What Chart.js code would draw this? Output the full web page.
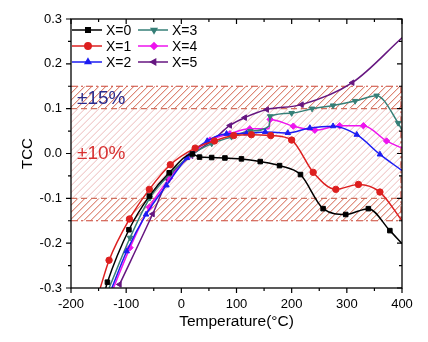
<!DOCTYPE html>
<html>
<head>
<meta charset="utf-8">
<script src="https://cdn.jsdelivr.net/npm/chart.js@4.4.1/dist/chart.umd.min.js"></script>
<style>
  html, body { margin: 0; padding: 0; background: #fff; }
  #wrap { width: 428px; height: 342px; }
</style>
</head>
<body>
<div id="wrap"><canvas id="chart"></canvas></div>
<script>
const SERIES_NAMES = ["X=0", "X=1", "X=2", "X=3", "X=4", "X=5"];
const COLORS = ["#000000", "#dd1f1f", "#1c1cf2", "#367f77", "#ee14ee", "#661680"];
const POINT_STYLES = ["rect", "circle", "triangle", "triangle", "rectRot", "triangle"];
const POINT_ROTATIONS = [0, 0, 0, 180, 0, -90];

const temp0 = [-137, -134, -95, -58, -22, 20, 33, 55, 79, 109, 143, 178, 216, 257, 298, 339, 378, 400];
const tcc0 = [-0.3, -0.287, -0.17, -0.095, -0.043, -0.001, -0.008, -0.009, -0.01, -0.012, -0.018, -0.027, -0.047, -0.123, -0.136, -0.123, -0.172, -0.201];

const temp1 = [-147, -131, -94, -58, -20, 25, 60, 95, 127, 162, 200, 239, 280, 321, 360, 400];
const tcc1 = [-0.3, -0.238, -0.146, -0.08, -0.025, 0.012, 0.028, 0.04, 0.042, 0.04, 0.03, -0.042, -0.08, -0.069, -0.086, -0.15];

const temp2 = [-126, -99, -64, -27, 10, 47, 82, 118, 152, 193, 233, 275, 318, 360, 400];
const tcc2 = [-0.3, -0.218, -0.136, -0.071, -0.01, 0.028, 0.044, 0.045, 0.048, 0.046, 0.057, 0.061, 0.042, -0.002, -0.038];

const temp3 = [-131, -93, -57, -20, 18, 55, 91, 125, 159, 161, 200, 237, 275, 315, 354, 393, 400];
const tcc3 = [-0.3, -0.188, -0.099, -0.045, -0.003, 0.022, 0.037, 0.05, 0.061, 0.083, 0.09, 0.1, 0.107, 0.117, 0.129, 0.068, 0.052];

const temp4 = [-123, -93, -58, -21, 15, 52, 88, 124, 159, 161, 203, 242, 287, 330, 372, 400];
const tcc4 = [-0.3, -0.21, -0.12, -0.055, -0.005, 0.03, 0.044, 0.055, 0.055, 0.076, 0.061, 0.052, 0.062, 0.062, 0.028, 0.012];

const temp5 = [-112, -52, -24, 18, 58, 88, 115, 155, 218, 310, 400];
const tcc5 = [-0.292, -0.135, -0.058, -0.005, 0.031, 0.0625, 0.08, 0.098, 0.109, 0.158, 0.258];

const TEMPS = [temp0, temp1, temp2, temp3, temp4, temp5];
const TCCS = [tcc0, tcc1, tcc2, tcc3, tcc4, tcc5];

// tolerance bands: inner ±10%, outer ±15%
const BAND_INNER = 0.10;
const BAND_OUTER = 0.15;

const FONT = "'Liberation Sans', Arial, sans-serif";

function hatch(ctx, area, yTop, yBot, color, gap, width) {
  ctx.save();
  ctx.beginPath();
  ctx.rect(area.left, yTop, area.right - area.left, yBot - yTop);
  ctx.clip();
  ctx.strokeStyle = color;
  ctx.lineWidth = width;
  const h = yBot - yTop;
  ctx.beginPath();
  for (let x = area.left - h; x < area.right + gap; x += gap) {
    ctx.moveTo(x, yBot);
    ctx.lineTo(x + h, yTop);
  }
  ctx.stroke();
  ctx.restore();
}

function hLine(ctx, area, y, color, dash) {
  ctx.save();
  ctx.strokeStyle = color;
  ctx.lineWidth = 1.2;
  ctx.setLineDash(dash);
  ctx.beginPath();
  ctx.moveTo(area.left, y);
  ctx.lineTo(area.right, y);
  ctx.stroke();
  ctx.restore();
}

const bandsPlugin = {
  id: "bands",
  beforeDatasetsDraw(chart) {
    const { ctx, chartArea: a, scales: { y } } = chart;
    const o1 = y.getPixelForValue(BAND_OUTER), i1 = y.getPixelForValue(BAND_INNER);
    const i2 = y.getPixelForValue(-BAND_INNER), o2 = y.getPixelForValue(-BAND_OUTER);
    hatch(ctx, a, o1, i1, "rgba(205,80,55,0.9)", 7, 1);
    hatch(ctx, a, i2, o2, "rgba(205,80,55,0.9)", 7, 1);
    hatch(ctx, a, i1, i2, "rgba(220,120,120,0.5)", 7, 1);
    const dashDot = [7, 3, 2, 3];
    hLine(ctx, a, o1, "#cc4535", dashDot);
    hLine(ctx, a, o2, "#cc4535", dashDot);
    hLine(ctx, a, i1, "#d0705e", [6, 4]);
    hLine(ctx, a, i2, "#d0705e", [6, 4]);
    ctx.save();
    ctx.strokeStyle = "#cc4535";
    ctx.lineWidth = 1.2;
    ctx.setLineDash(dashDot);
    ctx.beginPath();
    ctx.moveTo(a.right - 1, o1);
    ctx.lineTo(a.right - 1, o2);
    ctx.stroke();
    ctx.restore();

    ctx.save();
    ctx.font = "19px " + FONT;
    ctx.textBaseline = "middle";
    ctx.textAlign = "left";
    ctx.fillStyle = "#2b2b8c";
    ctx.fillText("\u00b115%", a.left + 6, (o1 + i1) / 2 + 1);
    ctx.fillStyle = "#d83232";
    ctx.fillText("\u00b110%", a.left + 6, y.getPixelForValue(0));
    ctx.restore();
  }
};

const framePlugin = {
  id: "frame",
  afterDraw(chart) {
    const { ctx, chartArea: a, scales: { x, y } } = chart;
    ctx.save();
    ctx.strokeStyle = "#000";
    ctx.lineWidth = 1.3;
    ctx.strokeRect(a.left, a.top, a.right - a.left, a.bottom - a.top);
    ctx.lineWidth = 1.2;
    ctx.beginPath();
    for (let v = -200; v <= 400; v += 50) {
      const px = x.getPixelForValue(v);
      const len = v % 100 === 0 ? 5 : 3;
      ctx.moveTo(px, a.bottom); ctx.lineTo(px, a.bottom + len);
      ctx.moveTo(px, a.top); ctx.lineTo(px, a.top + len);
    }
    for (let k = -6; k <= 6; k++) {
      const py = y.getPixelForValue(k * 0.05);
      const len = k % 2 === 0 ? 5 : 3;
      ctx.moveTo(a.left, py); ctx.lineTo(a.left - len, py);
      ctx.moveTo(a.right, py); ctx.lineTo(a.right - len, py);
    }
    ctx.stroke();
    ctx.restore();
  }
};

const legendPlugin = {
  id: "cornerLegend",
  afterDatasetsDraw(chart) {
    const ctx = chart.ctx;
    chart.data.datasets.forEach((ds, i) => {
      const col = Math.floor(i / 3), row = i % 3;
      const x0 = 72 + col * 66;
      const yy = 30 + row * 16;
      ctx.save();
      ctx.strokeStyle = ds.borderColor;
      ctx.lineWidth = 1.5;
      ctx.beginPath();
      ctx.moveTo(x0, yy);
      ctx.lineTo(x0 + 30, yy);
      ctx.stroke();
      ctx.fillStyle = ds.backgroundColor;
      Chart.helpers.drawPoint(ctx, {
        pointStyle: ds.pointStyle, radius: 3.2, rotation: ds.pointRotation, borderWidth: 1
      }, x0 + 16, yy);
      ctx.fillStyle = "#000";
      ctx.font = "14px " + FONT;
      ctx.textBaseline = "middle";
      ctx.fillText(ds.label, x0 + 34, yy + 1);
      ctx.restore();
    });
  }
};

// no marker on points lying on the frame, nor at the foot of a step
function markerRadius(c) {
  const p = c.raw;
  if (!p) return 3.2;
  if (p.x >= 400 || p.y <= -0.3) return 0;
  const next = c.dataset.data[c.dataIndex + 1];
  if (next && next.x - p.x < 4) return 0;
  return 3.2;
}

const datasets = SERIES_NAMES.map((name, i) => ({
  label: name,
  data: TEMPS[i].map((t, k) => ({ x: t, y: TCCS[i][k] })),
  borderColor: COLORS[i],
  backgroundColor: COLORS[i],
  borderWidth: 1.5,
  pointStyle: POINT_STYLES[i],
  pointRotation: POINT_ROTATIONS[i],
  pointRadius: markerRadius,
  pointBorderWidth: 1,
  cubicInterpolationMode: "monotone",
  clip: 0,
}));

new Chart(document.getElementById("chart"), {
  type: "line",
  data: { datasets },
  plugins: [bandsPlugin, legendPlugin, framePlugin],
  options: {
    responsive: true,
    maintainAspectRatio: false,
    animation: false,
    layout: { padding: { left: 0, right: 26, top: 19, bottom: 0 } },
    plugins: { legend: { display: false }, tooltip: { enabled: false } },
    scales: {
      x: {
        type: "linear", min: -200, max: 400,
        afterFit: (s) => { s.height = 54; },
        grid: { display: false, drawTicks: false },
        border: { display: false },
        ticks: { stepSize: 100, padding: 9, color: "#000", font: { size: 13, family: FONT } },
        title: { display: true, text: "Temperature(\u00b0C)", color: "#000", font: { size: 15.5, family: FONT }, padding: { top: 0, bottom: 11 } },
      },
      y: {
        type: "linear", min: -0.3, max: 0.3,
        afterFit: (s) => { s.width = 71; },
        grid: { display: false, drawTicks: false },
        border: { display: false },
        ticks: { stepSize: 0.1, padding: 9, color: "#000", font: { size: 13, family: FONT }, callback: (v) => v.toFixed(1) },
        title: { display: true, text: "TCC", color: "#000", font: { size: 15, family: FONT }, padding: { top: 19, bottom: 0 } },
      },
    },
  },
});
</script>
</body>
</html>
